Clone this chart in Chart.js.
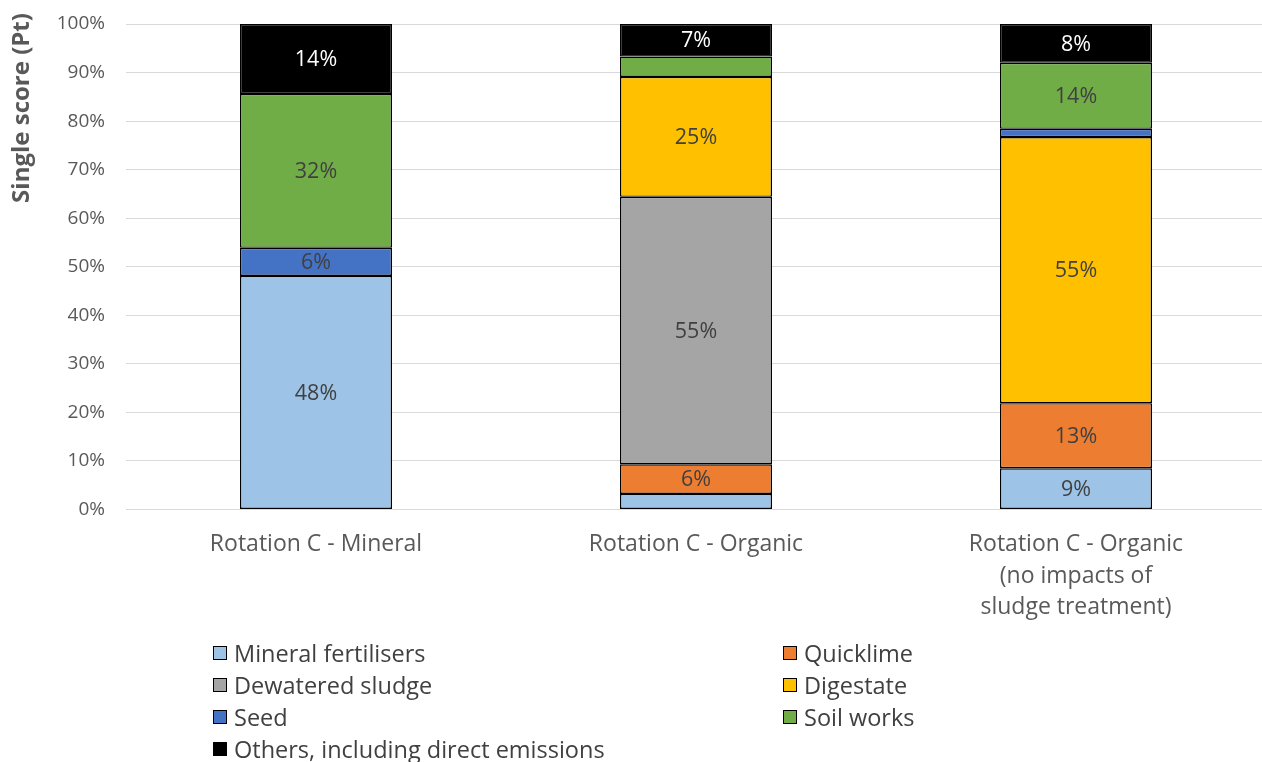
<!DOCTYPE html>
<html>
<head>
<meta charset="utf-8">
<script src="https://cdn.jsdelivr.net/npm/chart.js@4/dist/chart.umd.min.js"></script>
<style>
  html, body { margin: 0; padding: 0; background: #fff; overflow: hidden; width: 1262px; height: 762px; }
  #wrap { position: absolute; left: 0; top: 0; width: 1270px; height: 630px; }
  #legend { position: absolute; left: 0; top: 0; width: 1262px; height: 762px; pointer-events: none;
            font-family: "Open Sans", sans-serif; font-size: 23.5px; color: #404040; }
  .item { position: absolute; height: 26px; line-height: 26px; white-space: nowrap; }
  .box { position: absolute; left: 0; top: 6px; width: 12px; height: 12px; border: 1px solid #000; box-sizing: content-box; }
  .lbl { position: absolute; left: 21px; top: 0; }
</style>
</head>
<body>
<div id="wrap"><canvas id="c" width="1270" height="630"></canvas></div>
<div id="legend"></div>
<script>
// ---- data ----
const categories = [
  'Rotation C - Mineral',
  'Rotation C - Organic',
  ['Rotation C - Organic', '(no impacts of', 'sludge treatment)']
];
const seriesNames = ['Mineral fertilisers', 'Quicklime', 'Dewatered sludge', 'Digestate', 'Seed', 'Soil works', 'Others, including direct emissions'];
const mineralFertilisers = [48.1, 3.2, 8.5];
const quicklime = [null, 6.1, 13.4];
const dewateredSludge = [null, 55.1, null];
const digestate = [null, 24.7, 54.8];
const seed = [5.8, null, 1.7];
const soilWorks = [31.7, 4.2, 13.6];
const others = [14.4, 6.7, 8.0];
const yTicks = [0, 10, 20, 30, 40, 50, 60, 70, 80, 90, 100];

const seriesValues = [mineralFertilisers, quicklime, dewateredSludge, digestate, seed, soilWorks, others];
const seriesColors = ['#9DC3E6', '#ED7D31', '#A5A5A5', '#FFC000', '#4472C4', '#70AD47', '#000000'];
const labelColors = ['#404040', '#404040', '#404040', '#404040', '#404040', '#404040', '#FFFFFF'];

const FONT = '"Open Sans", sans-serif';

const datasets = seriesNames.map((n, i) => ({
  label: n,
  data: seriesValues[i],
  backgroundColor: seriesColors[i],
  borderColor: '#000000',
  borderWidth: 1.4,
  borderSkipped: false,
  barPercentage: 0.4,
  categoryPercentage: 1.0
}));

const valueLabels = {
  id: 'valueLabels',
  afterDatasetsDraw(chart) {
    const ctx = chart.ctx;
    ctx.save();
    ctx.font = '21.5px ' + FONT;
    ctx.textAlign = 'center';
    ctx.textBaseline = 'middle';
    chart.data.datasets.forEach((ds, i) => {
      const meta = chart.getDatasetMeta(i);
      meta.data.forEach((bar, j) => {
        const v = ds.data[j];
        if (v == null || v < 5) return;
        const p = bar.getProps(['x', 'y', 'base'], true);
        ctx.fillStyle = labelColors[i];
        ctx.fillText(Math.round(v) + '%', p.x, (p.y + p.base) / 2 + 1);
      });
    });
    ctx.restore();
  }
};

const yTitle = {
  id: 'yTitle',
  afterDraw(chart) {
    const ctx = chart.ctx;
    ctx.save();
    ctx.translate(22, 108);
    ctx.rotate(-Math.PI / 2);
    ctx.font = 'bold 24px ' + FONT;
    ctx.fillStyle = '#595959';
    ctx.textAlign = 'center';
    ctx.textBaseline = 'middle';
    ctx.fillText('Single score (Pt)', 0, 0);
    ctx.restore();
  }
};

new Chart(document.getElementById('c'), {
  type: 'bar',
  data: { labels: categories, datasets },
  options: {
    responsive: false,
    animation: false,
    layout: { padding: { top: 24, left: 0, right: 4, bottom: 0 } },
    plugins: { legend: { display: false }, tooltip: { enabled: false } },
    scales: {
      x: {
        stacked: true,
        grid: { display: false, drawTicks: false },
        border: { display: true, color: '#D9D9D9', width: 1 },
        ticks: { color: '#595959', font: { family: FONT, size: 23, lineHeight: 1.38 }, padding: 19, maxRotation: 0, autoSkip: false },
        afterFit(scale) { scale.height = 630 - 24 - 485.5; scale.paddingLeft = 0; scale.paddingRight = 0; }
      },
      y: {
        stacked: true,
        min: 0, max: 100,
        afterBuildTicks(scale) { scale.ticks = yTicks.map(v => ({ value: v })); },
        grid: { color: '#D9D9D9', lineWidth: 1, drawTicks: false },
        border: { display: false },
        ticks: { color: '#595959', font: { family: FONT, size: 19 }, padding: 21, callback: v => v + '%' },
        afterFit(scale) { scale.width = 126; scale.paddingTop = 0; scale.paddingBottom = 0; }
      }
    }
  },
  plugins: [valueLabels, yTitle]
});

// ---- HTML legend ----
const legendPos = [
  [213, 640], [783, 640],
  [213, 672], [783, 672],
  [213, 704], [783, 704],
  [213, 736]
];
const leg = document.getElementById('legend');
seriesNames.forEach((n, i) => {
  const it = document.createElement('div');
  it.className = 'item';
  it.style.left = legendPos[i][0] + 'px';
  it.style.top = legendPos[i][1] + 'px';
  const b = document.createElement('span');
  b.className = 'box';
  b.style.background = seriesColors[i];
  const t = document.createElement('span');
  t.className = 'lbl';
  t.textContent = n;
  it.appendChild(b); it.appendChild(t);
  leg.appendChild(it);
});
</script>
</body>
</html>
